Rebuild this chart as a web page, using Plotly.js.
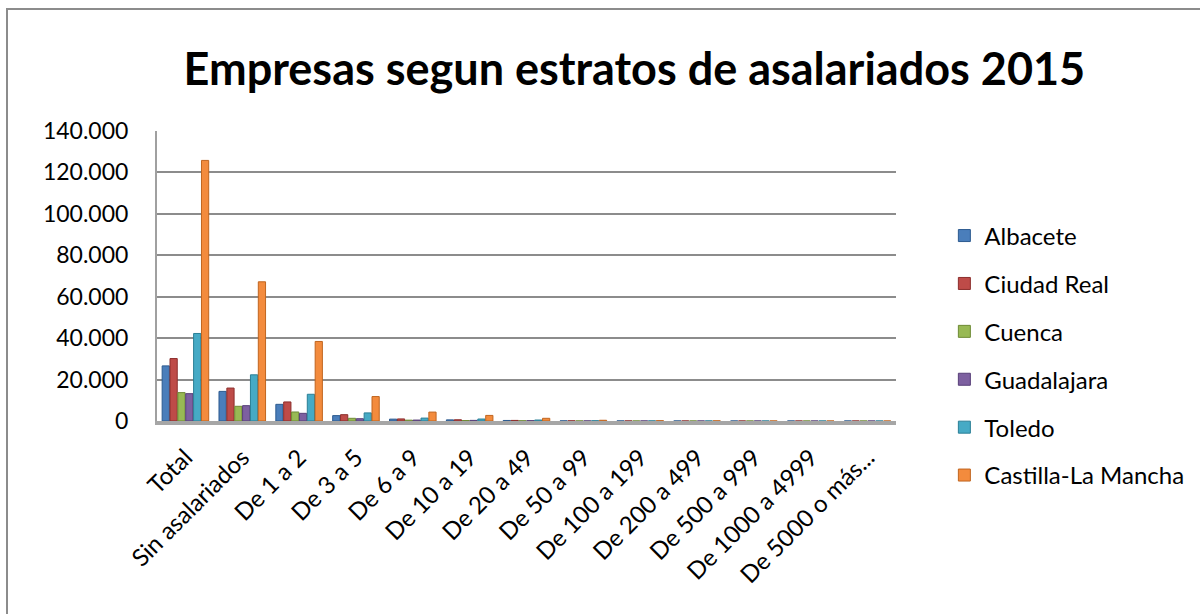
<!DOCTYPE html>
<html>
<head>
<meta charset="utf-8">
<script src="https://cdn.plot.ly/plotly-3.0.1.min.js"></script>
<style>
  body { margin: 0; background: #fff; }
  #chart { width: 1200px; height: 614px; position: absolute; left: 0; top: 0; }
  #frame { position: absolute; left: 6px; top: 8px; width: 1300px; height: 700px;
           border-left: 2px solid #8c8c8c; border-top: 2px solid #8c8c8c; pointer-events: none; }
</style>
</head>
<body>
<div id="chart"></div>
<div id="frame"></div>
<script>
const categories = ["Total", "Sin asalariados", "De 1 a 2", "De 3 a 5", "De 6 a 9", "De 10 a 19",
  "De 20 a 49", "De 50 a 99", "De 100 a 199", "De 200 a 499", "De 500 a 999", "De 1000 a 4999", "De 5000 o más..."];
const seriesNames = ["Albacete", "Ciudad Real", "Cuenca", "Guadalajara", "Toledo", "Castilla-La Mancha"];
const albacete      = [26600, 14300, 8050, 2600, 900, 550, 260, 70, 30, 15, 4, 3, 0];
const ciudadReal    = [30150, 15900, 9200, 3050, 1000, 600, 280, 75, 30, 14, 4, 2, 1];
const cuenca        = [13700, 7100, 4350, 1300, 400, 230, 110, 30, 12, 6, 1, 1, 0];
const guadalajara   = [13200, 7400, 3700, 1100, 450, 300, 160, 45, 22, 14, 4, 2, 0];
const toledo        = [42250, 22300, 12900, 3900, 1400, 950, 470, 120, 50, 25, 6, 3, 1];
const castillaLaMancha = [125800, 67200, 38400, 11800, 4300, 2700, 1300, 350, 150, 80, 20, 12, 2];
const seriesValues = [albacete, ciudadReal, cuenca, guadalajara, toledo, castillaLaMancha];
const colors = ["#4a7ebb", "#be4b48", "#98b954", "#7d60a0", "#46aac5", "#f38b3d"];
const edges  = ["#2c5a8f", "#8c2e2c", "#6e8a35", "#573f78", "#2a7f96", "#c0651f"];

const traces = seriesNames.map((name, i) => ({
  type: "bar",
  name: name,
  x: categories,
  y: seriesValues[i],
  legendgroup: "g" + i,
  marker: { color: colors[i], line: { color: edges[i], width: 1 } },
  hoverinfo: "x+y+name"
}));

const layout = {
  width: 1200, height: 614,
  margin: { l: 157, r: 303, t: 131, b: 193, pad: 0 },
  paper_bgcolor: "rgba(0,0,0,0)",
  plot_bgcolor: "rgba(0,0,0,0)",
  separators: ",.",
  font: { family: "Lato, 'Open Sans', sans-serif", color: "#000", size: 23 },
  title: {
    text: "<b>Empresas segun estratos de asalariados 2015</b>",
    font: { family: "Lato, 'Open Sans', sans-serif", size: 45, color: "#000" },
    x: 0.646, xanchor: "center", y: 0.887, yanchor: "middle", xref: "paper", yref: "container"
  },
  barmode: "group",
  bargap: 0.17,
  bargroupgap: 0.08,
  xaxis: {
    type: "category",
    tickangle: -45,
    tickfont: { size: 24 },
    showgrid: false,
    showline: true, linecolor: "#a6a6a6", linewidth: 4,
    ticks: "", ticklabelstandoff: 9, ticklabelshift: 0,
    fixedrange: true
  },
  yaxis: {
    range: [0, 140000],
    dtick: 20000,
    tickformat: ",d",
    tickfont: { size: 23 },
    showgrid: true, gridcolor: "#8c8c8c", gridwidth: 2,
    zeroline: false,
    showline: true, linecolor: "#a0a0a0", linewidth: 2,
    ticks: "", ticklabelstandoff: 22,
    fixedrange: true
  },
  legend: {
    x: 1.064, xanchor: "left", y: 0.226, yanchor: "middle",
    font: { size: 24 },
    tracegroupgap: 13.7,
    bgcolor: "rgba(0,0,0,0)"
  },
  showlegend: true
};

Plotly.newPlot("chart", traces, layout, { displayModeBar: false, staticPlot: true });
</script>
</body>
</html>
